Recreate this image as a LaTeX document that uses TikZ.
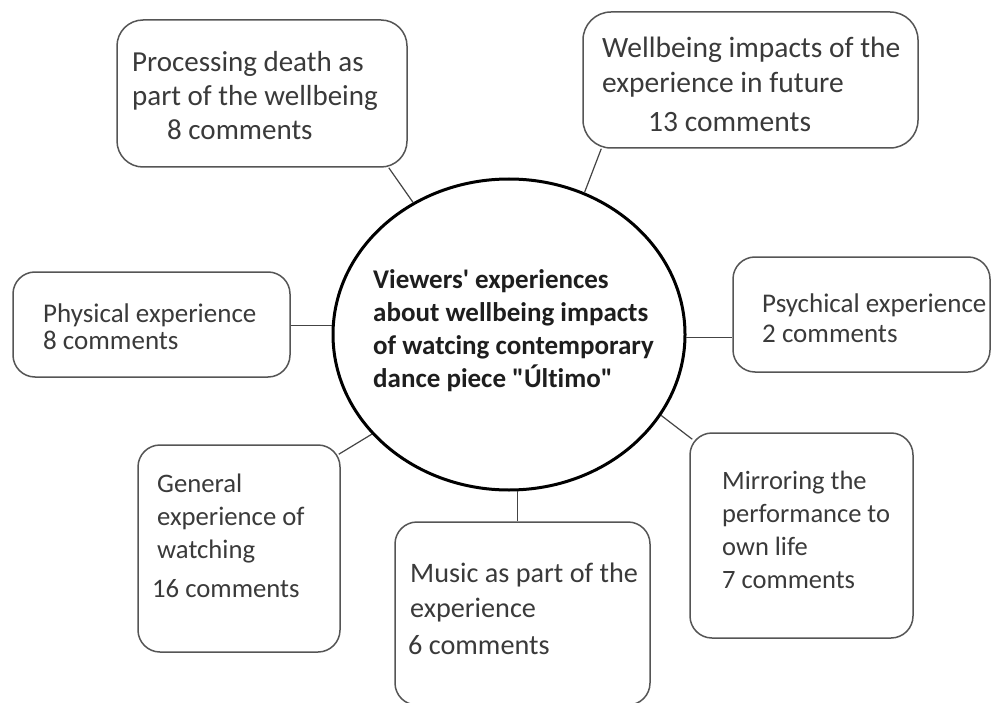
\documentclass[tikz,border=0pt]{standalone}
\usepackage{fontspec}
\setmainfont{Carlito}[Ligatures={TeXOff,CommonOff}]
\usetikzlibrary{shapes.geometric}
\definecolor{boxgray}{HTML}{555555}
\definecolor{linkgray}{HTML}{444444}
\definecolor{textgray}{HTML}{3A3A3A}
\definecolor{hubtext}{HTML}{1E1E1E}
\begin{document}
\begin{tikzpicture}[x=1pt,y=-1pt,
  topic/.style={draw=boxgray, line width=1.5pt, rounded corners=22pt, inner sep=0pt},
  % multi-line texts are placed by the baseline of their last line
  boxtext/.style 2 args={anchor=base west, align=left, inner sep=0pt, text=textgray,
    font=\fontsize{#1}{#2}\selectfont},
  link/.style={draw=linkgray, line width=1.2pt}]
\useasboundingbox[fill=white] (0,0) rectangle (992,703);

% central theme
\node[ellipse, draw=black, line width=3pt, minimum width=352pt, minimum height=311pt,
  inner sep=0pt] (hub) at (509,334.5) {};
\node[anchor=base west, align=left, inner sep=0pt, text=hubtext,
  font=\fontsize{27}{33}\selectfont\bfseries] (hubtxt) at (373,387)
  {Viewers{\char"0027} experiences\\about wellbeing impacts\\of watcing contemporary\\dance piece "Último"};

% theme boxes
\node[topic, rounded corners=26pt, minimum width=290pt, minimum height=147pt] (proc) at (262,93.5) {};
\node[topic, rounded corners=28pt, minimum width=335pt, minimum height=136pt] (well) at (750.5,80) {};
\node[topic, minimum width=277pt, minimum height=105pt] (phys) at (151.5,324.5) {};
\node[topic, minimum width=257pt, minimum height=115pt] (psy) at (861.5,314.5) {};
\node[topic, minimum width=202pt, minimum height=207pt] (gen) at (239,548.5) {};
\node[topic, minimum width=255pt, minimum height=183pt] (mus) at (522.5,613.5) {};
\node[topic, minimum width=223pt, minimum height=205pt] (mir) at (801.5,535.5) {};

% box texts
\node[boxtext={29}{34}] (proctxt) at (132,140)
  {Processing death as\\part of the wellbeing\\\hspace*{35pt}8 comments};
\node[boxtext={29.5}{35}] (welltxt) at (602,132)
  {Wellbeing impacts of the\\experience in future\\[4pt]\hspace*{46pt}13 comments};
\node[boxtext={27}{27}] (phystxt) at (43,349) {Physical experience\\8 comments};
\node[boxtext={27}{30}] (psytxt) at (762,342) {Psychical experience\\2 comments};
\node[boxtext={26.7}{33}] (gentxt) at (157,597)
  {General\\experience of\\watching\\[6pt]\hspace*{-5pt}16 comments};
\node[boxtext={28.2}{35}] (mustxt) at (410,654)
  {Music as part of the\\experience\\[2pt]\hspace*{-2pt}6 comments};
\node[boxtext={26.5}{33}] (mirtxt) at (722,588)
  {Mirroring the\\performance to\\own life\\7 comments};

% connectors
\draw[link] (hub.126) -- ([xshift=-19pt]proc.south east);
\draw[link] (hub.62) -- ([xshift=19pt]well.south west);
\draw[link] (hub.177) -- (hub.177 -| phys.east);
\draw[link] (hub.-1) -- (hub.-1 -| psy.west);
\draw[link] (hub.216) -- ([shift={(-2pt,-10pt)}]gen.north east);
\draw[link] (hub.-87) -- (hub.-87 |- mus.north);
\draw[link] (hub.-28) -- ([shift={(3pt,-7pt)}]mir.north west);
\end{tikzpicture}
\end{document}
